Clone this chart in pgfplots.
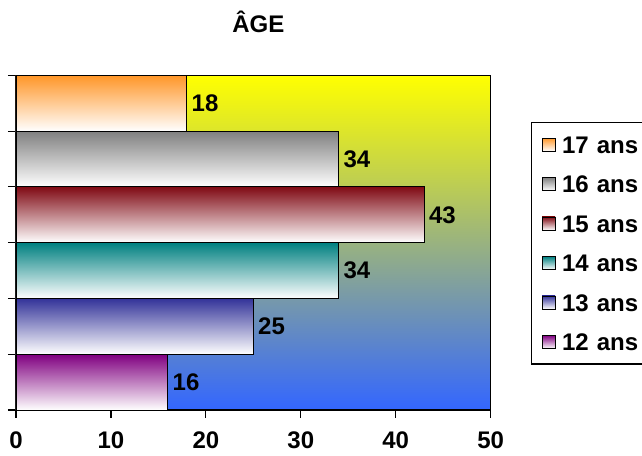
\documentclass[border=0pt]{standalone}
\usepackage{pgfplots}
\pgfplotsset{compat=1.18}
\usepackage{fontspec}
\setmainfont{Liberation Sans}
\definecolor{bgtop}{RGB}{255,255,0}
\definecolor{bgmid}{RGB}{200,200,180}
\definecolor{bgbot}{RGB}{51,102,255}
\definecolor{c17}{RGB}{255,150,40}
\definecolor{c16}{RGB}{128,128,128}
\definecolor{c15}{RGB}{128,10,20}
\definecolor{c14}{RGB}{0,128,128}
\definecolor{c13}{RGB}{51,51,153}
\definecolor{c12}{RGB}{128,0,128}
\newcommand{\bigbf}{\fontsize{18}{21}\selectfont\bfseries}
\begin{document}
\begin{tikzpicture}[x=0.75pt,y=0.75pt]
\path[use as bounding box] (-16,-46) rectangle (626,410);
\begin{axis}[
  at={(0,0)}, anchor=south west,
  scale only axis,
  width=356pt, height=251pt,
  xbar, bar width=1, bar shift=0pt,
  xmin=0, xmax=50, ymin=-0.5, ymax=5.5,
  xtick={0,10,...,50},
  ytick={-0.5,0.5,...,5.5}, yticklabels={},
  tick align=outside, tick pos=left,
  major tick length=6pt,
  tick style={black, line width=0.9pt},
  axis line style={black, line width=0.9pt},
  /pgf/number format/assume math mode=true,
  tick label style={font=\bigbf},
  xticklabel style={anchor=north, inner sep=0pt, text height=13pt, text depth=0pt, yshift=-10pt},
  title={ÂGE},
  title style={font=\bigbf, at={(0.5,1)}, anchor=center, inner sep=0pt, yshift=33.75pt, xshift=3.75pt},
  axis background/.style={shade, top color=bgtop, middle color=bgmid, bottom color=bgbot},
  nodes near coords,
  every node near coord/.append style={black, anchor=west, font=\bigbf},
  legend style={at={(386.25pt,216pt)}, anchor=north west, draw=black, line width=0.9pt,
    fill=white, row sep=16.6pt, column sep=5pt, inner xsep=7.5pt, inner ysep=10pt,
    nodes={inner sep=0pt, text height=13pt, text depth=0pt, font=\bigbf},
    text width=90pt},
  reverse legend,
  legend image code/.code={\draw[#1, line width=0.6pt] (0pt,-4.9pt) rectangle (9.75pt,4.9pt);},
]
\addplot[draw=black, line width=0.6pt, shade, top color=c12, bottom color=white] coordinates {(16,0)};
\addplot[draw=black, line width=0.6pt, shade, top color=c13, bottom color=white] coordinates {(25,1)};
\addplot[draw=black, line width=0.6pt, shade, top color=c14, bottom color=white] coordinates {(34,2)};
\addplot[draw=black, line width=0.6pt, shade, top color=c15, bottom color=white] coordinates {(43,3)};
\addplot[draw=black, line width=0.6pt, shade, top color=c16, bottom color=white] coordinates {(34,4)};
\addplot[draw=black, line width=0.6pt, shade, top color=c17, bottom color=white] coordinates {(18,5)};
\legend{12 ans, 13 ans, 14 ans, 15 ans, 16 ans, 17 ans}
\end{axis}
\end{tikzpicture}
\end{document}
